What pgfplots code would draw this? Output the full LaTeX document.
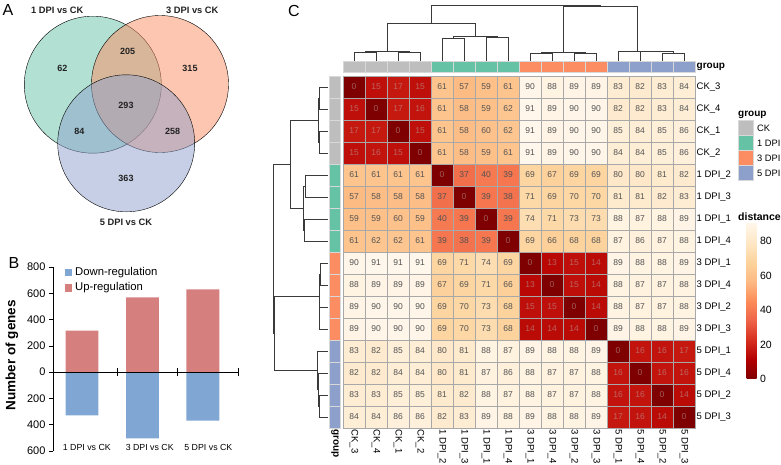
\documentclass[border=0pt]{standalone}
\usepackage{pgfplots}
\pgfplotsset{compat=1.18}
\usepackage{pgfplotstable}
\usepackage{fontspec}
\setmainfont{Liberation Sans}
\newcommand\fs[1]{\fontsize{#1}{#1}\selectfont}
\definecolor{vgreen}{HTML}{66C2A5}
\definecolor{vorange}{HTML}{FC8D62}
\definecolor{vblue}{HTML}{8DA0CB}
\definecolor{ckgray}{HTML}{BEBEBE}
\definecolor{upred}{HTML}{D67F7F}
\definecolor{downblue}{HTML}{80A6D4}
\definecolor{cellline}{HTML}{A8A8A8}
\definecolor{annline}{HTML}{D8D8D8}
\definecolor{dendro}{HTML}{3A3A3A}
\definecolor{venntxt}{HTML}{222222}
\pgfplotsset{/pgf/number format/assume math mode=true}
\pgfplotsset{colormap={orrd}{rgb255=(127,0,0) rgb255=(179,0,0) rgb255=(215,48,31) rgb255=(239,101,72) rgb255=(252,141,89) rgb255=(253,187,132) rgb255=(253,212,158) rgb255=(254,232,200) rgb255=(255,247,236)}}
\pgfplotsset{dline/.style={dendro, line width=0.7pt}}

\pgfplotstableread{
r c0 c1 c2 c3 c4 c5 c6 c7 c8 c9 c10 c11 c12 c13 c14 c15
0 0 15 17 15 61 57 59 61 90 88 89 89 83 82 83 84
1 15 0 17 16 61 58 59 62 91 89 90 90 82 82 83 84
2 17 17 0 15 61 58 60 62 91 89 90 90 85 84 85 86
3 15 16 15 0 61 58 59 61 91 89 90 90 84 84 85 86
4 61 61 61 61 0 37 40 39 69 67 69 69 80 80 81 82
5 57 58 58 58 37 0 39 38 71 69 70 70 81 81 82 83
6 59 59 60 59 40 39 0 39 74 71 73 73 88 87 88 89
7 61 62 62 61 39 38 39 0 69 66 68 68 87 86 87 88
8 90 91 91 91 69 71 74 69 0 13 15 14 89 88 88 89
9 88 89 89 89 67 69 71 66 13 0 15 14 88 87 87 88
10 89 90 90 90 69 70 73 68 15 15 0 14 88 87 87 88
11 89 90 90 90 69 70 73 68 14 14 14 0 89 88 88 89
12 83 82 85 84 80 81 88 87 89 88 88 89 0 16 16 17
13 82 82 84 84 80 81 87 86 88 87 87 88 16 0 16 16
14 83 83 85 85 81 82 88 87 88 87 87 88 16 16 0 14
15 84 84 86 86 82 83 89 88 89 88 88 89 17 16 14 0
}\distmat

\begin{document}
\begin{tikzpicture}
\useasboundingbox (0,0) rectangle (781pt,-464pt);

% ---------------- A: Venn
\begin{axis}[at={(0pt,0pt)}, anchor=north west, scale only axis, width=260pt, height=215pt,
  xmin=0, xmax=260, ymin=0, ymax=215, y dir=reverse, hide axis, clip=false]
\addplot[only marks, mark=*, mark size=68.5pt, mark options={draw=none, fill=vgreen, fill opacity=0.5}] coordinates {(92.8,84.7)};
\addplot[only marks, mark=*, mark size=68.5pt, mark options={draw=none, fill=vorange, fill opacity=0.5}] coordinates {(160,84)};
\addplot[only marks, mark=*, mark size=68.5pt, mark options={draw=none, fill=vblue, fill opacity=0.5}] coordinates {(126.2,143.3)};
\end{axis}
% Venn texts (drawn after the circles, 1pt = 1px, origin top left)
\begin{scope}[every node/.style={text=venntxt}]
\node[font=\fs{9}\bfseries] at (62.3pt,-68.3pt) {62};
\node[font=\fs{9}\bfseries] at (127.7pt,-51pt) {205};
\node[font=\fs{9}\bfseries] at (190pt,-68.3pt) {315};
\node[font=\fs{9}\bfseries] at (126pt,-105pt) {293};
\node[font=\fs{9}\bfseries] at (79.3pt,-131.7pt) {84};
\node[font=\fs{9}\bfseries] at (172.7pt,-131.7pt) {258};
\node[font=\fs{9}\bfseries] at (126pt,-178.3pt) {363};
\node[font=\fs{9.3}\bfseries] at (57.3pt,-10.7pt) {1 DPI vs CK};
\node[font=\fs{9.3}\bfseries] at (192.3pt,-10.7pt) {3 DPI vs CK};
\node[font=\fs{9.3}\bfseries] at (126pt,-222.3pt) {5 DPI vs CK};
\end{scope}

% ---------------- B: bars
\begin{axis}[at={(53pt,-267pt)}, anchor=north west, scale only axis, width=185pt, height=184pt,
  xmin=0.52, xmax=3.58, ymin=-600, ymax=800, clip=false,
  axis x line=none, axis y line*=left,
  axis line style={black, line width=0.6pt},
  ytick={-600,-400,-200,0,200,400,600,800},
  yticklabels={600,400,200,0,200,400,600,800},
  ytick align=outside, major tick length=4pt, tick style={black, line width=0.6pt},
  yticklabel style={font=\fs{11}},
  ylabel={Number of genes},
  ylabel style={font=\fs{13.5}\bfseries, at={(axis description cs:-0.222,0.52)}, anchor=center}]
\addplot[ybar, bar width=0.545, bar shift=0pt, fill=upred, draw=none] coordinates {(1,316) (2,568) (3,630)};
\addplot[ybar, bar width=0.545, bar shift=0pt, fill=downblue, draw=none] coordinates {(1,-328) (2,-503) (3,-368)};
\addplot[black, line width=0.7pt] coordinates {(0.52,0) (3.58,0)};
\addplot[black, line width=0.6pt] coordinates {(1.59,-33) (1.59,33)};
\addplot[black, line width=0.6pt] coordinates {(2.58,-33) (2.58,33)};
\addplot[black, line width=0.6pt] coordinates {(3.58,-33) (3.58,33)};
\addplot[only marks, mark=square*, mark size=3.3pt, color=downblue] coordinates {(0.773,760)};
\addplot[only marks, mark=square*, mark size=3.3pt, color=upred] coordinates {(0.773,642)};
\node[font=\fs{11.3}, anchor=west, inner sep=0pt] at (axis cs:0.884,760) {Down-regulation};
\node[font=\fs{11.3}, anchor=west, inner sep=0pt] at (axis cs:0.884,642) {Up-regulation};
\node[font=\fs{8.8}] at (axis cs:1.08,-571) {1 DPI vs CK};
\node[font=\fs{8.8}] at (axis cs:2.12,-571) {3 DPI vs CK};
\node[font=\fs{8.8}] at (axis cs:3.09,-571) {5 DPI vs CK};
\end{axis}

% ---------------- C: column dendrogram
\begin{axis}[at={(343pt,-5.5pt)}, anchor=north west, scale only axis, width=352pt, height=56pt,
  xmin=0, xmax=16, ymin=0, ymax=91, hide axis, clip=false]
\addplot[dline] coordinates {(0.5,0) (0.5,15) (1.5,15) (1.5,0)};
\addplot[dline] coordinates {(2.5,0) (2.5,15) (3.5,15) (3.5,0)};
\addplot[dline] coordinates {(1,15) (1,16.8) (3,16.8) (3,15)};
\addplot[dline] coordinates {(4.5,0) (4.5,37) (5.5,37) (5.5,0)};
\addplot[dline] coordinates {(6.5,0) (6.5,39) (7.5,39) (7.5,0)};
\addplot[dline] coordinates {(5,37) (5,40.5) (7,40.5) (7,39)};
\addplot[dline] coordinates {(2,16.8) (2,62) (6,62) (6,40.5)};
\addplot[dline] coordinates {(8.5,0) (8.5,13) (9.5,13) (9.5,0)};
\addplot[dline] coordinates {(10.5,0) (10.5,14) (11.5,14) (11.5,0)};
\addplot[dline] coordinates {(9,13) (9,15) (11,15) (11,14)};
\addplot[dline] coordinates {(14.5,0) (14.5,14) (15.5,14) (15.5,0)};
\addplot[dline] coordinates {(13.5,0) (13.5,16) (15,16) (15,14)};
\addplot[dline] coordinates {(12.5,0) (12.5,17) (14.25,17) (14.25,16)};
\addplot[dline] coordinates {(10,15) (10,89) (13.375,89) (13.375,17)};
\addplot[dline] coordinates {(4,62) (4,91) (11.6875,91) (11.6875,89)};
\end{axis}

% ---------------- C: row dendrogram
\begin{axis}[at={(273pt,-76pt)}, anchor=north west, scale only axis, width=55pt, height=352pt,
  xmin=0, xmax=91, x dir=reverse, ymin=0, ymax=16, y dir=reverse, hide axis, clip=false]
\addplot[dline] coordinates {(0,0.5) (15,0.5) (15,1.5) (0,1.5)};
\addplot[dline] coordinates {(0,2.5) (15,2.5) (15,3.5) (0,3.5)};
\addplot[dline] coordinates {(15,1) (16.8,1) (16.8,3) (15,3)};
\addplot[dline] coordinates {(0,4.5) (37,4.5) (37,5.5) (0,5.5)};
\addplot[dline] coordinates {(0,6.5) (39,6.5) (39,7.5) (0,7.5)};
\addplot[dline] coordinates {(37,5) (40.5,5) (40.5,7) (39,7)};
\addplot[dline] coordinates {(16.8,2) (62,2) (62,6) (40.5,6)};
\addplot[dline] coordinates {(0,8.5) (13,8.5) (13,9.5) (0,9.5)};
\addplot[dline] coordinates {(0,10.5) (14,10.5) (14,11.5) (0,11.5)};
\addplot[dline] coordinates {(13,9) (15,9) (15,11) (14,11)};
\addplot[dline] coordinates {(0,14.5) (14,14.5) (14,15.5) (0,15.5)};
\addplot[dline] coordinates {(0,13.5) (16,13.5) (16,15) (14,15)};
\addplot[dline] coordinates {(0,12.5) (17,12.5) (17,14.25) (16,14.25)};
\addplot[dline] coordinates {(15,10) (89,10) (89,13.375) (17,13.375)};
\addplot[dline] coordinates {(62,4) (91,4) (91,11.6875) (89,11.6875)};
\end{axis}

% ---------------- C: heatmap
\begin{axis}[at={(343pt,-76pt)}, anchor=north west, scale only axis, width=352pt, height=352pt,
  xmin=0, xmax=16, ymin=0, ymax=16, y dir=reverse, hide axis, clip=false,
  point meta min=0, point meta max=91,
  colorbar,
  colorbar style={at={(parent axis.north east)}, anchor=north west, xshift=43pt, yshift=-146pt,
    scale only axis, width=10pt, height=157pt, ytick={0,20,40,60,80},
    yticklabel style={font=\fs{10.5}, xshift=0pt},
    axis line style={draw=none}, major tick length=0pt}]
\pgfplotsinvokeforeach{0,...,15}{
  \addplot[scatter, only marks, mark=square*, mark size=11pt, point meta=\thisrow{c#1},
    scatter/use mapped color={draw=cellline, fill=mapped color}, mark options={line width=0.6pt}]
    table[x expr=#1+0.5, y expr=\thisrow{r}+0.5] {\distmat};
}
\pgfplotsinvokeforeach{0,...,15}{
  \addplot[only marks, mark=*, mark options={draw opacity=0, fill opacity=0}, point meta=\thisrow{c#1},
    restrict expr to domain={\thisrow{c#1}}{30:100},
    nodes near coords, nodes near coords align={center},
    every node near coord/.append style={font=\fs{8.5}, text=black!68, text opacity=1, inner sep=0pt}]
    table[x expr=#1+0.5, y expr=\thisrow{r}+0.5] {\distmat};
  \addplot[only marks, mark=*, mark options={draw opacity=0, fill opacity=0}, point meta=\thisrow{c#1},
    restrict expr to domain={\thisrow{c#1}}{-1:30},
    nodes near coords, nodes near coords align={center},
    every node near coord/.append style={font=\fs{8.5}, text=gray!55, text opacity=0.5, inner sep=0pt}]
    table[x expr=#1+0.5, y expr=\thisrow{r}+0.5] {\distmat};
}
% column annotation
\addplot[only marks, mark=square*, mark size=11pt, mark options={yscale=0.5, fill=ckgray, draw=annline, line width=0.6pt}] coordinates {(0.5,-0.4) (1.5,-0.4) (2.5,-0.4) (3.5,-0.4)};
\addplot[only marks, mark=square*, mark size=11pt, mark options={yscale=0.5, fill=vgreen, draw=annline, line width=0.6pt}] coordinates {(4.5,-0.4) (5.5,-0.4) (6.5,-0.4) (7.5,-0.4)};
\addplot[only marks, mark=square*, mark size=11pt, mark options={yscale=0.5, fill=vorange, draw=annline, line width=0.6pt}] coordinates {(8.5,-0.4) (9.5,-0.4) (10.5,-0.4) (11.5,-0.4)};
\addplot[only marks, mark=square*, mark size=11pt, mark options={yscale=0.5, fill=vblue, draw=annline, line width=0.6pt}] coordinates {(12.5,-0.4) (13.5,-0.4) (14.5,-0.4) (15.5,-0.4)};
% row annotation
\addplot[only marks, mark=square*, mark size=11pt, mark options={xscale=0.52, fill=ckgray, draw=annline, line width=0.6pt}] coordinates {(-0.364,0.5) (-0.364,1.5) (-0.364,2.5) (-0.364,3.5)};
\addplot[only marks, mark=square*, mark size=11pt, mark options={xscale=0.52, fill=vgreen, draw=annline, line width=0.6pt}] coordinates {(-0.364,4.5) (-0.364,5.5) (-0.364,6.5) (-0.364,7.5)};
\addplot[only marks, mark=square*, mark size=11pt, mark options={xscale=0.52, fill=vorange, draw=annline, line width=0.6pt}] coordinates {(-0.364,8.5) (-0.364,9.5) (-0.364,10.5) (-0.364,11.5)};
\addplot[only marks, mark=square*, mark size=11pt, mark options={xscale=0.52, fill=vblue, draw=annline, line width=0.6pt}] coordinates {(-0.364,12.5) (-0.364,13.5) (-0.364,14.5) (-0.364,15.5)};
% group legend boxes
\addplot[only marks, mark=square*, mark size=7.5pt, mark options={fill=ckgray, draw=annline, line width=0.5pt}] coordinates {(18.295,2.364)};
\addplot[only marks, mark=square*, mark size=7.5pt, mark options={fill=vgreen, draw=annline, line width=0.5pt}] coordinates {(18.295,3.045)};
\addplot[only marks, mark=square*, mark size=7.5pt, mark options={fill=vorange, draw=annline, line width=0.5pt}] coordinates {(18.295,3.727)};
\addplot[only marks, mark=square*, mark size=7.5pt, mark options={fill=vblue, draw=annline, line width=0.5pt}] coordinates {(18.295,4.409)};
\node[font=\fs{10}\bfseries, anchor=west, inner sep=0pt] at (axis cs:17.955,1.773) {group};
\node[font=\fs{9.3}, anchor=west, inner sep=0pt] at (axis cs:18.818,2.364) {CK};
\node[font=\fs{9.3}, anchor=west, inner sep=0pt] at (axis cs:18.818,3.045) {1 DPI};
\node[font=\fs{9.3}, anchor=west, inner sep=0pt] at (axis cs:18.818,3.727) {3 DPI};
\node[font=\fs{9.3}, anchor=west, inner sep=0pt] at (axis cs:18.818,4.409) {5 DPI};
\node[font=\fs{10.5}\bfseries, anchor=west, inner sep=0pt] at (axis cs:17.955,6.409) {distance};
\node[font=\fs{10}\bfseries, anchor=west, inner sep=1.5pt] at (axis cs:16,-0.4) {group};
\node[font=\fs{10}\bfseries, anchor=west, rotate=-90, inner sep=1.5pt] at (axis cs:-0.364,16) {group};
% row labels
\node[font=\fs{9.5}, anchor=west, inner sep=1.5pt] at (axis cs:16,0.5) {CK\_3};
\node[font=\fs{9.5}, anchor=west, inner sep=1.5pt] at (axis cs:16,1.5) {CK\_4};
\node[font=\fs{9.5}, anchor=west, inner sep=1.5pt] at (axis cs:16,2.5) {CK\_1};
\node[font=\fs{9.5}, anchor=west, inner sep=1.5pt] at (axis cs:16,3.5) {CK\_2};
\node[font=\fs{9.5}, anchor=west, inner sep=1.5pt] at (axis cs:16,4.5) {1 DPI\_2};
\node[font=\fs{9.5}, anchor=west, inner sep=1.5pt] at (axis cs:16,5.5) {1 DPI\_3};
\node[font=\fs{9.5}, anchor=west, inner sep=1.5pt] at (axis cs:16,6.5) {1 DPI\_1};
\node[font=\fs{9.5}, anchor=west, inner sep=1.5pt] at (axis cs:16,7.5) {1 DPI\_4};
\node[font=\fs{9.5}, anchor=west, inner sep=1.5pt] at (axis cs:16,8.5) {3 DPI\_1};
\node[font=\fs{9.5}, anchor=west, inner sep=1.5pt] at (axis cs:16,9.5) {3 DPI\_4};
\node[font=\fs{9.5}, anchor=west, inner sep=1.5pt] at (axis cs:16,10.5) {3 DPI\_2};
\node[font=\fs{9.5}, anchor=west, inner sep=1.5pt] at (axis cs:16,11.5) {3 DPI\_3};
\node[font=\fs{9.5}, anchor=west, inner sep=1.5pt] at (axis cs:16,12.5) {5 DPI\_1};
\node[font=\fs{9.5}, anchor=west, inner sep=1.5pt] at (axis cs:16,13.5) {5 DPI\_4};
\node[font=\fs{9.5}, anchor=west, inner sep=1.5pt] at (axis cs:16,14.5) {5 DPI\_2};
\node[font=\fs{9.5}, anchor=west, inner sep=1.5pt] at (axis cs:16,15.5) {5 DPI\_3};
% column labels
\node[font=\fs{9.5}, anchor=west, rotate=-90, inner sep=1.5pt] at (axis cs:0.5,16) {CK\_3};
\node[font=\fs{9.5}, anchor=west, rotate=-90, inner sep=1.5pt] at (axis cs:1.5,16) {CK\_4};
\node[font=\fs{9.5}, anchor=west, rotate=-90, inner sep=1.5pt] at (axis cs:2.5,16) {CK\_1};
\node[font=\fs{9.5}, anchor=west, rotate=-90, inner sep=1.5pt] at (axis cs:3.5,16) {CK\_2};
\node[font=\fs{9.5}, anchor=west, rotate=-90, inner sep=1.5pt] at (axis cs:4.5,16) {1 DPI\_2};
\node[font=\fs{9.5}, anchor=west, rotate=-90, inner sep=1.5pt] at (axis cs:5.5,16) {1 DPI\_3};
\node[font=\fs{9.5}, anchor=west, rotate=-90, inner sep=1.5pt] at (axis cs:6.5,16) {1 DPI\_1};
\node[font=\fs{9.5}, anchor=west, rotate=-90, inner sep=1.5pt] at (axis cs:7.5,16) {1 DPI\_4};
\node[font=\fs{9.5}, anchor=west, rotate=-90, inner sep=1.5pt] at (axis cs:8.5,16) {3 DPI\_1};
\node[font=\fs{9.5}, anchor=west, rotate=-90, inner sep=1.5pt] at (axis cs:9.5,16) {3 DPI\_4};
\node[font=\fs{9.5}, anchor=west, rotate=-90, inner sep=1.5pt] at (axis cs:10.5,16) {3 DPI\_2};
\node[font=\fs{9.5}, anchor=west, rotate=-90, inner sep=1.5pt] at (axis cs:11.5,16) {3 DPI\_3};
\node[font=\fs{9.5}, anchor=west, rotate=-90, inner sep=1.5pt] at (axis cs:12.5,16) {5 DPI\_1};
\node[font=\fs{9.5}, anchor=west, rotate=-90, inner sep=1.5pt] at (axis cs:13.5,16) {5 DPI\_4};
\node[font=\fs{9.5}, anchor=west, rotate=-90, inner sep=1.5pt] at (axis cs:14.5,16) {5 DPI\_2};
\node[font=\fs{9.5}, anchor=west, rotate=-90, inner sep=1.5pt] at (axis cs:15.5,16) {5 DPI\_3};
\end{axis}

% panel letters
\node[font=\fs{16}] at (8pt,-10pt) {A};
\node[font=\fs{16}] at (14pt,-262.5pt) {B};
\node[font=\fs{16}] at (294pt,-11pt) {C};
\end{tikzpicture}
\end{document}
